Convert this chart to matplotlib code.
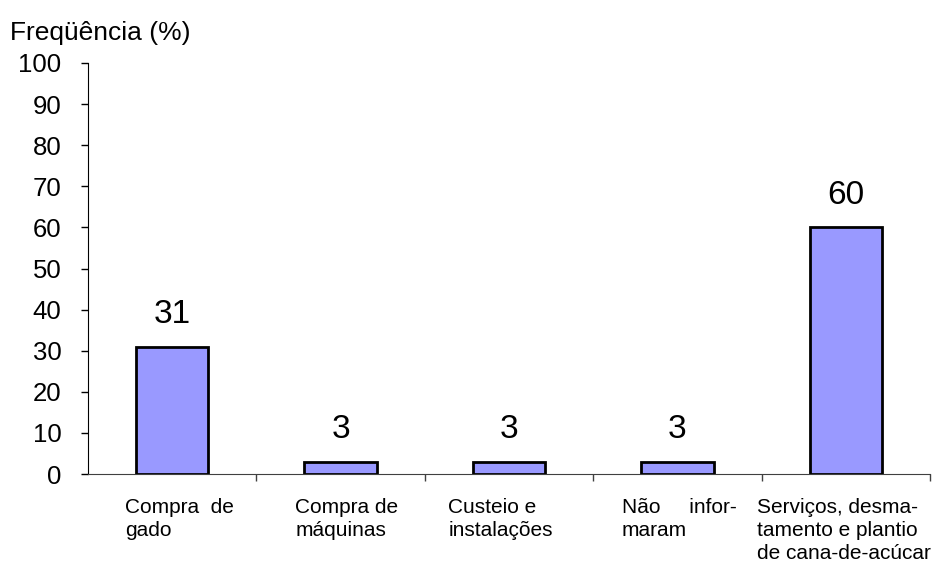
import matplotlib
matplotlib.use("Agg")
import matplotlib.pyplot as plt
import matplotlib.transforms as mtransforms

plt.rcParams['font.family'] = ['Liberation Sans', 'DejaVu Sans']

# data
categories = [
    "Compra  de\ngado",
    "Compra de\nmáquinas",
    "Custeio e\ninstalações",
    "Não     infor-\nmaram",
    "Serviços, desma-\ntamento e plantio\nde cana-de-acúcar",
]
values = [31, 3, 3, 3, 60]
yticks = list(range(0, 101, 10))

# where each label starts inside its slot (fraction of a slot from its left edge)
label_offsets = [0.22, 0.23, 0.14, 0.17, -0.03]

fig = plt.figure(figsize=(9.36, 5.62), dpi=100)
ax = fig.add_axes([88 / 936, 1 - 474 / 562, (930 - 88) / 936, (474 - 63) / 562])

x = list(range(len(values)))
ax.bar(x, values, width=0.43, color='#9999FF', edgecolor='black', linewidth=2.0)

for xi, v in zip(x, values):
    ax.annotate(str(v), (xi, v), xytext=(0, 12), textcoords='offset points',
                ha='center', va='bottom', fontsize=24)

ax.set_xlim(-0.5, len(values) - 0.5)
ax.set_ylim(0, 100)
ax.set_yticks(yticks)
ax.tick_params(axis='y', direction='out', length=5, width=1, pad=14, labelsize=18.5)

# x ticks sit on the borders between categories
ax.set_xticks([i + 0.5 for i in x])
ax.set_xticklabels([])
ax.tick_params(axis='x', direction='out', length=5, width=1, color='#404040')

trans = mtransforms.blended_transform_factory(ax.transData, ax.transAxes)
for xi, lab, off in zip(x, categories, label_offsets):
    ax.text(xi - 0.5 + off, -0.058, lab, transform=trans, ha='left', va='top',
            fontsize=15, linespacing=1.28)

ax.spines['top'].set_visible(False)
ax.spines['right'].set_visible(False)
ax.spines['bottom'].set_color('#404040')

fig.text(10 / 936, 1 - 40 / 562, "Freqüência (%)", fontsize=19, ha='left', va='baseline')

fig.savefig("out.png", dpi=100)
